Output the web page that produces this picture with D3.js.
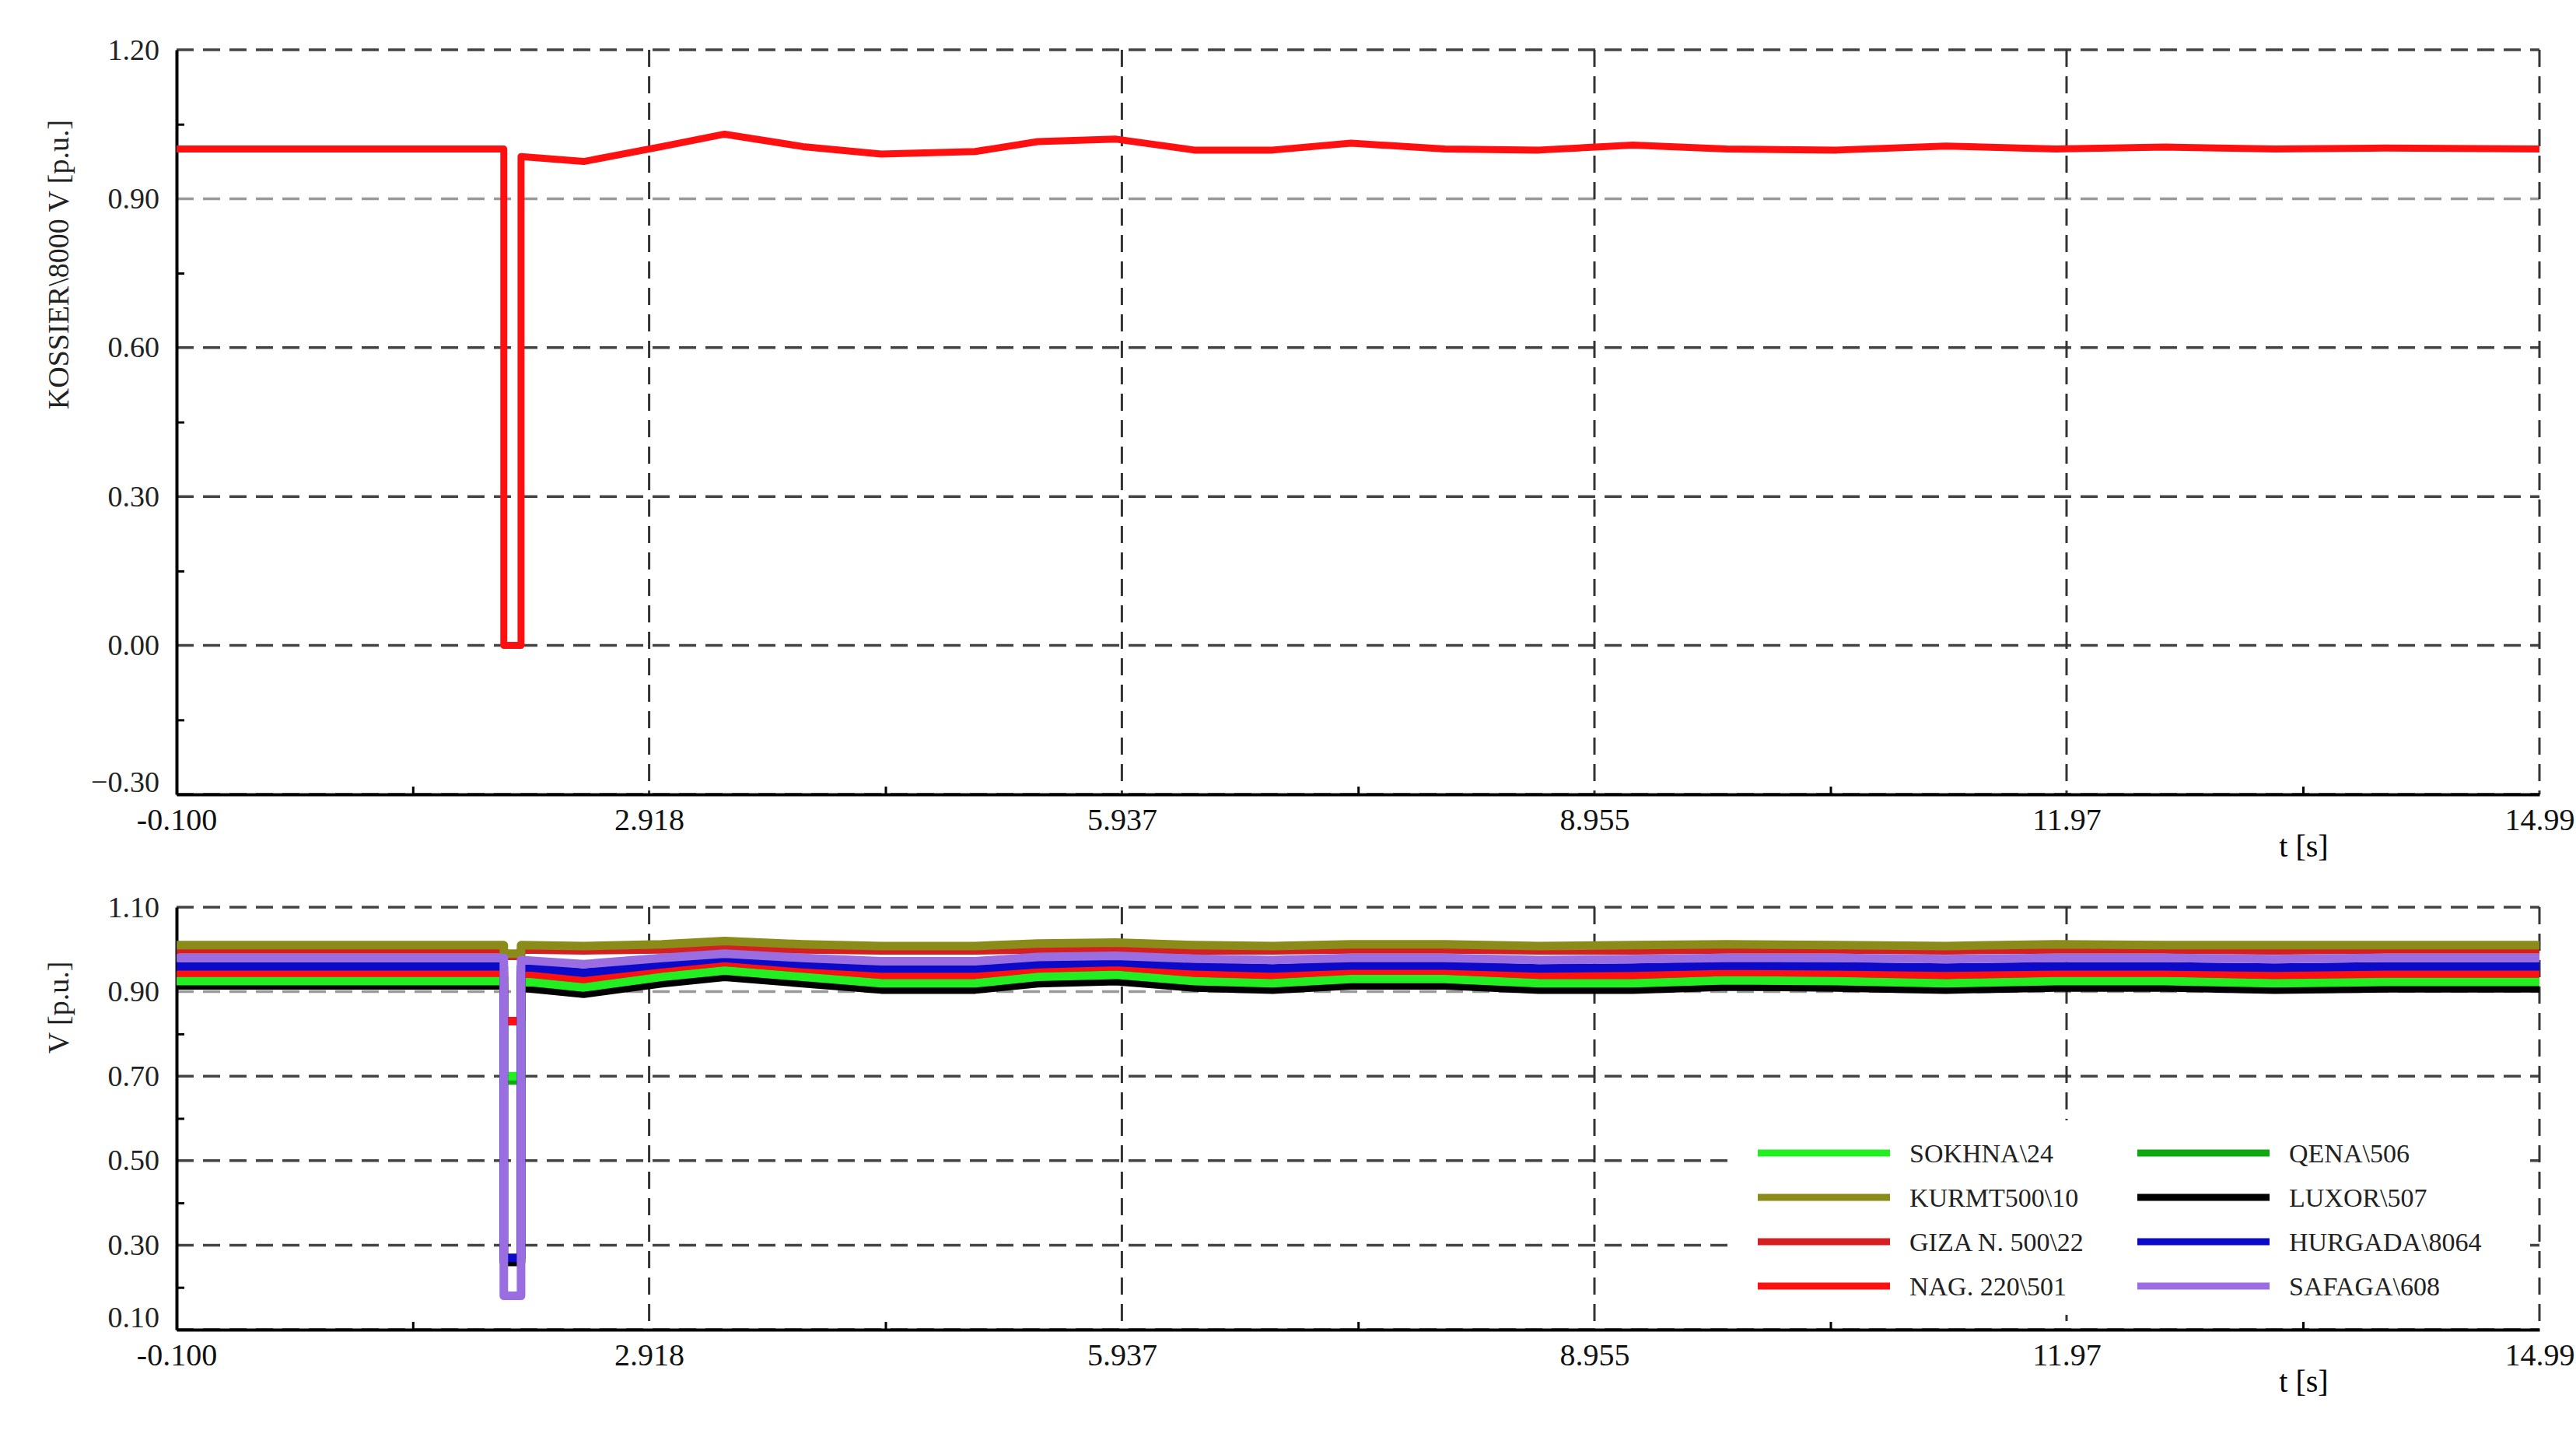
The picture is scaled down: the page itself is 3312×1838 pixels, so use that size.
<!DOCTYPE html><html><head><meta charset="utf-8">
<script src="https://cdn.jsdelivr.net/npm/d3@7"></script>
<style>body{margin:0;background:#fff}text{font-family:"Liberation Serif",serif}</style></head><body>
<svg id="c" width="3312" height="1838"></svg>
<script>
const xTicks=[-0.1,2.918,5.937,8.955,11.97,14.99];
const xTickLabels=["-0.100","2.918","5.937","8.955","11.97","14.99"];
const topTicks=[-0.3,0,0.3,0.6,0.9,1.2];
const botTicks=[0.1,0.3,0.5,0.7,0.9,1.1];
const time=[-0.1,1.99,1.99,2.1,2.1,2.5,3.0,3.4,3.9,4.4,5.0,5.4,5.9,6.4,6.9,7.4,8.0,8.6,9.2,9.8,10.5,11.2,11.9,12.6,13.3,14.0,14.99];
const kossier=[1,1,0,0,0.985,0.975,1.005,1.03,1.005,0.99,0.995,1.015,1.02,0.998,0.998,1.012,1.0,0.998,1.008,1.0,0.998,1.006,1.0,1.004,1.0,1.002,1.0];
const seriesNames=["SOKHNA\\24","KURMT500\\10","GIZA N. 500\\22","NAG. 220\\501","QENA\\506","LUXOR\\507","HURGADA\\8064","SAFAGA\\608"];
const seriesColors=["#22ee22","#8b8b1a","#d42020","#ff1010","#10a810","#000000","#0a0ac8","#9a6ee0"];
const sokhna=[0.925,0.925,0.70,0.70,0.925,0.91,0.935,0.95,0.935,0.92,0.92,0.935,0.94,0.925,0.92,0.93,0.93,0.92,0.92,0.927,0.925,0.92,0.925,0.925,0.92,0.923,0.923];
const kurmt=[1.01,1.01,0.99,0.99,1.01,1.008,1.012,1.02,1.012,1.008,1.008,1.014,1.016,1.01,1.008,1.012,1.012,1.008,1.01,1.012,1.01,1.008,1.012,1.01,1.01,1.01,1.01];
const giza=[1.0,1.0,0.985,0.985,1.0,0.998,1.0,1.002,1.0,0.998,0.998,1.0,1.0,0.998,0.998,1.0,1.0,0.998,0.998,1.0,1.0,0.998,1.0,1.0,0.998,1.0,1.0];
const nag=[0.945,0.945,0.83,0.83,0.945,0.93,0.955,0.97,0.955,0.94,0.94,0.955,0.96,0.945,0.94,0.95,0.95,0.94,0.94,0.947,0.945,0.94,0.945,0.945,0.94,0.943,0.943];
const qena=[0.935,0.935,0.69,0.69,0.935,0.92,0.945,0.96,0.945,0.93,0.93,0.945,0.95,0.935,0.93,0.94,0.94,0.93,0.93,0.937,0.935,0.93,0.935,0.935,0.93,0.933,0.933];
const luxor=[0.915,0.915,0.26,0.26,0.91,0.895,0.92,0.935,0.92,0.905,0.905,0.92,0.925,0.91,0.905,0.915,0.915,0.905,0.905,0.912,0.91,0.905,0.91,0.91,0.905,0.908,0.908];
const hurgada=[0.96,0.96,0.27,0.27,0.96,0.945,0.965,0.98,0.965,0.955,0.955,0.965,0.97,0.96,0.955,0.962,0.962,0.955,0.957,0.962,0.96,0.957,0.96,0.96,0.957,0.96,0.96];
const safaga=[0.98,0.98,0.18,0.18,0.975,0.965,0.98,0.99,0.98,0.972,0.972,0.982,0.985,0.978,0.975,0.98,0.98,0.975,0.977,0.98,0.98,0.977,0.98,0.98,0.977,0.98,0.98];
const seriesVals=[sokhna,kurmt,giza,nag,qena,luxor,hurgada,safaga];
const drawOrder=[5,4,0,3,6,2,1,7];

const svg=d3.select("#c");
const x=d3.scaleLinear().domain([-0.1,14.99]).range([227,3265]);
function panel(y0,y1,dom,ticks,label,lab){
  const y=d3.scaleLinear().domain(dom).range([y1,y0]);
  const g=svg.append("g");
  ticks.forEach(t=>g.append("line").attr("x1",227).attr("x2",3265).attr("y1",y(t)).attr("y2",y(t))
    .attr("stroke",Math.abs(t-0.9)<1e-6?"#999":"#444").attr("stroke-width",3.5).attr("stroke-dasharray","22,12"));
  xTicks.slice(1).forEach(t=>g.append("line").attr("x1",x(t)).attr("x2",x(t)).attr("y1",y0).attr("y2",y1)
    .attr("stroke","#333").attr("stroke-width",3).attr("stroke-dasharray","22,12"));
  const minX=xTicks.slice(0,-1).map((t,i)=>(t+xTicks[i+1])/2);
  g.append("g").attr("transform",`translate(0,${y1})`).call(d3.axisBottom(x).tickValues(minX).tickSize(-10).tickFormat(""))
   .call(a=>{a.select(".domain").remove();a.selectAll("line").attr("stroke-width",3);});
  const minY=ticks.slice(0,-1).map((t,i)=>(t+ticks[i+1])/2);
  g.append("g").attr("transform","translate(227,0)").call(d3.axisLeft(y).tickValues(minY).tickSize(-10).tickFormat(""))
   .call(a=>{a.select(".domain").remove();a.selectAll("line").attr("stroke-width",3);});
  g.append("g").attr("transform","translate(227,0)").call(d3.axisLeft(y).tickValues(ticks).tickSize(0).tickPadding(22).tickFormat(d3.format(".2f")))
   .call(a=>{a.select(".domain").attr("stroke-width",4);a.selectAll("text").attr("font-size",38).attr("fill","#222").attr("font-family","Liberation Serif").attr("dy",t=>t===ticks[0]?"-0.1em":"0.32em");});
  g.append("g").attr("transform",`translate(0,${y1})`).call(d3.axisBottom(x).tickValues(xTicks).tickSize(0).tickPadding(18).tickFormat((d,i)=>xTickLabels[i]))
   .call(a=>{a.select(".domain").attr("stroke-width",4);a.selectAll("text").attr("font-size",40).attr("fill","#111").attr("font-family","Liberation Serif");});
  g.append("text").attr("x",2962).attr("y",y1+80).attr("text-anchor","middle").attr("font-size",40).text("t [s]");
  g.append("text").attr("transform",`translate(88,${lab}) rotate(-90)`).attr("text-anchor","middle").attr("font-size",38).attr("fill","#222").text(label);
  return y;
}
const yT=panel(64,1021,[-0.3,1.2],topTicks,"KOSSIER\\8000 V [p.u.]",340);
const yB=panel(1166,1709,[0.1,1.1],botTicks,"V [p.u.]",1295);
const line=(yy)=>d3.line().x((d,i)=>x(time[i])).y(d=>yy(d));
svg.append("path").datum(kossier).attr("d",line(yT)).attr("fill","none").attr("stroke","#ff1010").attr("stroke-width",9).attr("stroke-linejoin","round");
drawOrder.forEach(k=>svg.append("path").datum(seriesVals[k]).attr("d",line(yB)).attr("fill","none").attr("stroke",seriesColors[k]).attr("stroke-width",11).attr("stroke-linejoin","round"));
// legend box
svg.append("rect").attr("x",2232).attr("y",1440).attr("width",1020).attr("height",250).attr("fill","#fff");
const legOrder=[[0,4],[1,5],[2,6],[3,7]];
legOrder.forEach((row,r)=>row.forEach((k,c)=>{
  const lx=c?2748:2260, ly=1482+r*57;
  svg.append("line").attr("x1",lx).attr("x2",lx+170).attr("y1",ly).attr("y2",ly).attr("stroke",seriesColors[k]).attr("stroke-width",9);
  svg.append("text").attr("x",lx+195).attr("y",ly+12).attr("font-size",34).attr("fill","#222").text(seriesNames[k]);
}));
</script></body></html>
